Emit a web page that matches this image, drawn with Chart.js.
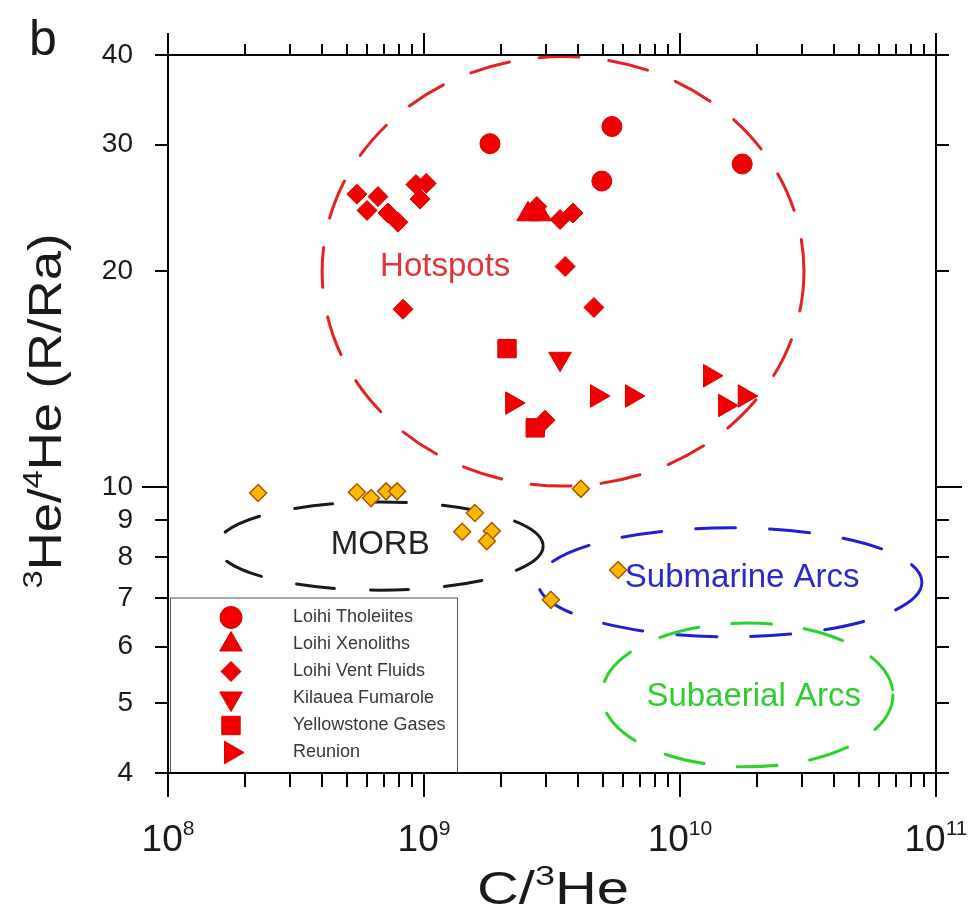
<!DOCTYPE html>
<html>
<head>
<meta charset="utf-8">
<script src="https://cdn.jsdelivr.net/npm/chart.js@4/dist/chart.umd.min.js"></script>
<style>
  body { margin: 0; background: #fff; }
  canvas { display: block; }
</style>
</head>
<body>
<canvas id="heChart" width="978" height="912"></canvas>
<script>
// C/3He vs 3He/4He (R/Ra)
var tholeiiteX = [1.81e9, 5.42e9, 4.95e9, 1.75e10];
var tholeiiteY = [30.1, 31.8, 26.7, 28.2];

var xenolithX = [2.55e9, 2.84e9];
var xenolithY = [24.0, 24.0];

var ventX = [5.47e8, 6.61e8, 5.99e8, 7.23e8, 7.91e8, 9.30e8, 1.02e9, 9.65e8, 8.28e8,
             2.76e9, 3.40e9, 3.82e9, 3.56e9, 4.61e9, 2.97e9];
var ventY = [25.6, 25.4, 24.3, 24.1, 23.4, 26.4, 26.5, 25.2, 17.7,
             24.6, 23.6, 24.1, 20.3, 17.8, 12.4];

var fumaroleX = [3.40e9];
var fumaroleY = [15.1];

var yellowstoneX = [2.11e9, 2.72e9];
var yellowstoneY = [15.6, 12.1];

var reunionX = [2.21e9, 4.74e9, 6.49e9, 1.31e10, 1.50e10, 1.79e10];
var reunionY = [13.1, 13.4, 13.4, 14.3, 13.0, 13.4];

// orange diamonds (no legend entry)
var morbX = [2.25e8, 5.47e8, 6.21e8, 7.11e8, 7.85e8, 1.58e9, 1.41e9, 1.84e9, 1.76e9, 4.10e9, 5.73e9, 3.13e9];
var morbY = [9.82, 9.84, 9.66, 9.87, 9.87, 9.21, 8.67, 8.69, 8.41, 9.95, 7.67, 6.97];

// dashed fields, in data units
var regionNames = ['Hotspots', 'MORB', 'Submarine Arcs', 'Subaerial Arcs'];
var regionXMin = [4.0e8, 1.55e8, 2.79e9, 4.95e9];
var regionXMax = [3.05e10, 2.92e9, 8.81e10, 6.79e10];
var regionYMin = [10.04, 7.19, 6.19, 4.08];
var regionYMax = [39.8, 9.54, 8.78, 6.47];
var regionLabelX = [1.21e9, 6.74e8, 1.75e10, 1.94e10];
var regionLabelY = [20.3, 8.30, 7.48, 5.10];

// axes
var xDecades = [1e8, 1e9, 1e10, 1e11];
var xExponents = ['8', '9', '10', '11'];
var xMinorSteps = [2, 3, 4, 5, 6, 7, 8, 9];
var yTicks = [4, 5, 6, 7, 8, 9, 10, 20, 30, 40];
var yLongTicks = [10];

var legendNames = ['Loihi Tholeiites', 'Loihi Xenoliths', 'Loihi Vent Fluids',
                   'Kilauea Fumarole', 'Yellowstone Gases', 'Reunion'];

var font = '"Liberation Sans", Arial, sans-serif';
var red = '#f00000';
var regionColors = ['#e32222', '#1a1a1a', '#2020d0', '#2ad22a'];
var regionText = ['#e03535', '#222222', '#2a2ac8', '#30cc30'];
var regionDash = [[40, 30], [38, 36], [40, 34], [40, 33]];

function pts(xs, ys) {
  return xs.map(function (x, i) { return { x: x, y: ys[i] }; });
}

var xTickValues = [];
xDecades.forEach(function (d, i) {
  xTickValues.push(d);
  if (i < xDecades.length - 1) {
    xMinorSteps.forEach(function (m) { xTickValues.push(d * m); });
  }
});

function redSet(label, xs, ys, style, radius, rot) {
  return {
    label: label,
    data: pts(xs, ys),
    pointStyle: style,
    pointRadius: radius,
    rotation: rot || 0,
    backgroundColor: red,
    borderColor: '#d80000',
    borderWidth: 1
  };
}

// draws text with superscript parts, centred at (cx, cy)
function richText(ctx, parts, size, cx, cy, rot, targetW, supRatio, supRise) {
  ctx.save();
  ctx.translate(cx, cy);
  ctx.rotate(rot);
  var w = 0;
  parts.forEach(function (p) {
    ctx.font = (p[1] ? size * supRatio : size) + 'px ' + font;
    w += ctx.measureText(p[0]).width;
  });
  if (targetW) ctx.scale(targetW / w, 1);
  var x = -w / 2, base = size * 0.36;
  ctx.textAlign = 'left';
  ctx.textBaseline = 'alphabetic';
  parts.forEach(function (p) {
    ctx.font = (p[1] ? size * supRatio : size) + 'px ' + font;
    ctx.fillText(p[0], x, p[1] ? base - size * supRise : base);
    x += ctx.measureText(p[0]).width;
  });
  ctx.restore();
}

var fieldsPlugin = {
  id: 'fields',
  beforeDatasetsDraw: function (chart) {
    var ctx = chart.ctx, sx = chart.scales.x, sy = chart.scales.y;
    ctx.save();
    regionNames.forEach(function (name, i) {
      var x1 = sx.getPixelForValue(regionXMin[i]), x2 = sx.getPixelForValue(regionXMax[i]);
      var y1 = sy.getPixelForValue(regionYMax[i]), y2 = sy.getPixelForValue(regionYMin[i]);
      ctx.beginPath();
      ctx.ellipse((x1 + x2) / 2, (y1 + y2) / 2, (x2 - x1) / 2, (y2 - y1) / 2, 0, 0, Math.PI * 2);
      ctx.setLineDash(regionDash[i]);
      ctx.lineWidth = 3;
      ctx.lineCap = 'round';
      ctx.strokeStyle = regionColors[i];
      ctx.stroke();
      ctx.setLineDash([]);
      ctx.fillStyle = regionText[i];
      ctx.font = '33px ' + font;
      ctx.textAlign = 'center';
      ctx.textBaseline = 'middle';
      ctx.fillText(name, sx.getPixelForValue(regionLabelX[i]), sy.getPixelForValue(regionLabelY[i]));
    });
    ctx.restore();
  },
  afterDatasetsDraw: function (chart) {
    var ctx = chart.ctx, sx = chart.scales.x, sy = chart.scales.y, a = chart.chartArea;
    ctx.save();

    // legend box
    var lx = a.left + 2, ly = sy.getPixelForValue(7) - 1, lw = 287, lh = a.bottom - ly;
    ctx.fillStyle = '#fff';
    ctx.fillRect(lx, ly, lw, lh);
    ctx.strokeStyle = '#555';
    ctx.lineWidth = 1;
    ctx.strokeRect(lx + 0.5, ly + 0.5, lw, lh);
    legendNames.forEach(function (name, i) {
      var ds = chart.data.datasets[i];
      var yy = ly + 20 + i * 27;
      ctx.fillStyle = ds.backgroundColor;
      ctx.strokeStyle = ds.borderColor;
      Chart.helpers.drawPoint(ctx, {
        pointStyle: ds.pointStyle, rotation: ds.rotation,
        radius: ds.pointStyle === 'circle' ? 11 : ds.pointRadius, borderWidth: 1
      }, a.left + 63, yy);
      ctx.fillStyle = '#383838';
      ctx.font = '18px ' + font;
      ctx.textAlign = 'left';
      ctx.textBaseline = 'middle';
      ctx.fillText(name, a.left + 125, yy);
    });

    // frame and ticks
    ctx.strokeStyle = '#000';
    ctx.lineWidth = 2;
    ctx.strokeRect(a.left, a.top, a.right - a.left, a.bottom - a.top);
    ctx.beginPath();
    xTickValues.forEach(function (v) {
      var px = Math.round(sx.getPixelForValue(v));
      var major = xDecades.indexOf(v) >= 0;
      ctx.moveTo(px, a.bottom);
      ctx.lineTo(px, a.bottom + (major ? 24 : 14));
      ctx.moveTo(px, a.top);
      ctx.lineTo(px, a.top - (major ? 22 : 11));
    });
    yTicks.forEach(function (v) {
      var py = Math.round(sy.getPixelForValue(v));
      var len = yLongTicks.indexOf(v) >= 0 ? 26 : 13;
      ctx.moveTo(a.left, py);
      ctx.lineTo(a.left - len, py);
      ctx.moveTo(a.right, py);
      ctx.lineTo(a.right + len, py);
    });
    ctx.stroke();

    // x tick labels 10^n
    ctx.fillStyle = '#1a1a1a';
    xDecades.forEach(function (v, i) {
      richText(ctx, [['10', 0], [xExponents[i], 1]], 37, sx.getPixelForValue(v), a.bottom + 65,
               0, null, 0.57, 0.43);
    });

    // axis titles
    ctx.fillStyle = '#1a1a1a';
    richText(ctx, [['C/', 0], ['3', 1], ['He', 0]], 46, (a.left + a.right) / 2 + 1, 887,
             0, 152, 0.62, 0.4);
    richText(ctx, [['3', 1], ['He/', 0], ['4', 1], ['He (R/Ra)', 0]], 46, 44, 411,
             -Math.PI / 2, 355, 0.62, 0.4);

    // panel letter
    ctx.font = '50px ' + font;
    ctx.textAlign = 'left';
    ctx.textBaseline = 'alphabetic';
    ctx.fillText('b', 29, 55);
    ctx.restore();
  }
};

var ctx = document.getElementById('heChart').getContext('2d');
var heChart = new Chart(ctx, {
  type: 'scatter',
  data: {
    datasets: [
      redSet('Loihi Tholeiites', tholeiiteX, tholeiiteY, 'circle', 10),
      redSet('Loihi Xenoliths', xenolithX, xenolithY, 'triangle', 13),
      redSet('Loihi Vent Fluids', ventX, ventY, 'rectRot', 10),
      redSet('Kilauea Fumarole', fumaroleX, fumaroleY, 'triangle', 13, 180),
      redSet('Yellowstone Gases', yellowstoneX, yellowstoneY, 'rect', 13),
      redSet('Reunion', reunionX, reunionY, 'triangle', 13, 90),
      {
        label: 'MORB',
        data: pts(morbX, morbY),
        pointStyle: 'rectRot',
        pointRadius: 8.5,
        backgroundColor: '#ffb800',
        borderColor: '#a85800',
        borderWidth: 1.5
      }
    ]
  },
  options: {
    responsive: false,
    animation: false,
    events: [],
    layout: { padding: { top: 55, right: 42, bottom: 0, left: 0 } },
    plugins: {
      legend: { display: false },
      tooltip: { enabled: false }
    },
    scales: {
      x: {
        type: 'logarithmic',
        position: 'bottom',
        min: 1e8,
        max: 1e11,
        grid: { display: false },
        border: { display: false },
        ticks: { display: false },
        afterBuildTicks: function (s) { s.ticks = xTickValues.map(function (v) { return { value: v }; }); },
        afterFit: function (s) { s.height = 139; }
      },
      y: {
        type: 'logarithmic',
        position: 'left',
        min: 4,
        max: 40,
        grid: { display: false },
        border: { display: false },
        ticks: {
          autoSkip: false,
          padding: 27,
          color: '#1a1a1a',
          font: { family: font, size: 28 },
          callback: function (v) { return String(v); }
        },
        afterBuildTicks: function (s) { s.ticks = yTicks.map(function (v) { return { value: v }; }); },
        afterFit: function (s) { s.width = 168; }
      }
    }
  },
  plugins: [fieldsPlugin]
});
</script>
</body>
</html>
